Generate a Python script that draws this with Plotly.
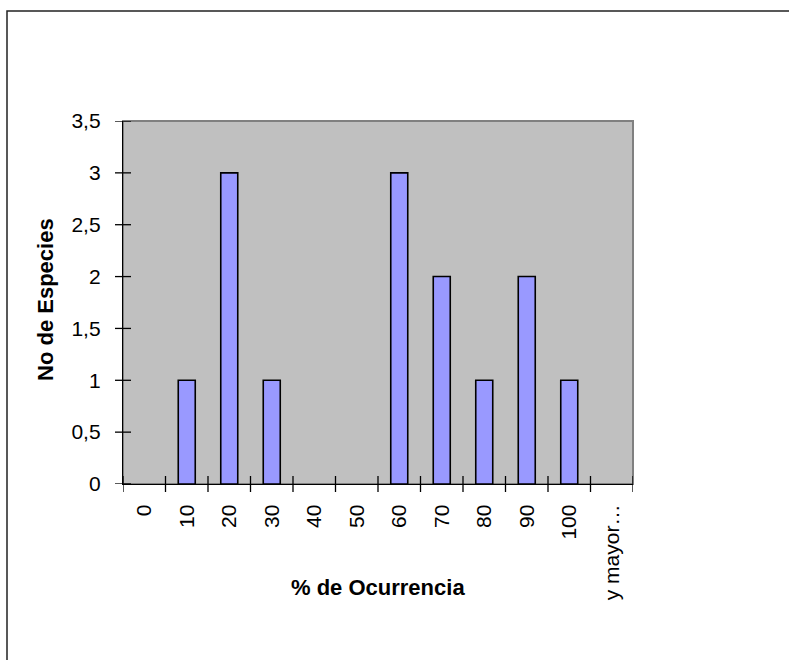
import plotly.graph_objects as go

# Frequency table: % of occurrence classes vs. number of species
categories = ["0", "10", "20", "30", "40", "50", "60", "70", "80", "90", "100", "y mayor…"]
counts = [0, 1, 3, 1, 0, 0, 3, 2, 1, 2, 1, 0]
y_ticks = [0, 0.5, 1, 1.5, 2, 2.5, 3, 3.5]

x_title = "% de Ocurrencia"
y_title = "No de Especies"

W, H = 789, 660
# plot area in pixels
L, R, T, B = 123, 633, 121, 484
pw, ph = R - L, B - T
TICK = 8  # half-length of the crossing tick marks, px


def px_x(p):
    return (p - L) / pw


def px_y(p):
    return (B - p) / ph


FONT = "Liberation Sans, Arial, sans-serif"
n = len(categories)

fig = go.Figure()
fig.add_trace(go.Bar(
    x=categories, y=counts, width=0.4,
    marker=dict(color="#9999FF",
                line=dict(color="#000000",
                          width=[1.6 if v else 0 for v in counts])),
    hoverinfo="x+y", showlegend=False,
))

fig.update_layout(
    width=W, height=H,
    margin=dict(l=L, r=W - R, t=T, b=H - B, pad=0),
    paper_bgcolor="#FFFFFF", plot_bgcolor="#C0C0C0",
    separators=",.",
    font=dict(family=FONT, size=21, color="#000000"),
    xaxis=dict(
        type="category", categoryorder="array", categoryarray=categories,
        range=[-0.5, n - 0.5], tickangle=-90, ticks="",
        showgrid=False, zeroline=False,
        showline=True, linecolor="#000000", linewidth=1.3,
        ticklabelstandoff=11, fixedrange=True,
    ),
    yaxis=dict(
        range=[0, 3.5], tickmode="array", tickvals=y_ticks, ticks="",
        showgrid=False, zeroline=False,
        showline=True, linecolor="#000000", linewidth=1.3,
        ticklabelstandoff=17, fixedrange=True,
    ),
)

# grey frame on top/right of the plot area
fig.add_shape(type="rect", xref="paper", yref="paper", x0=0, x1=1, y0=0, y1=1,
              line=dict(color="#808080", width=2), layer="below")

# tick marks crossing the axes (category boundaries on x, value ticks on y)
tick_line = dict(color="#000000", width=1.3)
for i in range(n + 1):
    fig.add_shape(type="line", xref="x", yref="paper",
                  x0=i - 0.5, x1=i - 0.5, y0=-TICK / ph, y1=TICK / ph,
                  line=tick_line, layer="above")
for v in y_ticks:
    fig.add_shape(type="line", xref="paper", yref="y",
                  x0=-TICK / pw, x1=TICK / pw, y0=v, y1=v,
                  line=tick_line, layer="above")

# outer chart border
fig.add_shape(type="rect", xref="paper", yref="paper",
              x0=px_x(7), x1=px_x(W + 20), y0=px_y(H + 20), y1=px_y(11),
              line=dict(color="#222222", width=1.5))

fig.add_annotation(text=f"<b>{x_title}</b>", xref="paper", yref="paper",
                   x=px_x(377.5), y=px_y(587), xanchor="center", yanchor="middle",
                   showarrow=False, font=dict(family=FONT, size=22, color="#000000"))
fig.add_annotation(text=f"<b>{y_title}</b>", xref="paper", yref="paper",
                   x=px_x(45), y=px_y(300), xanchor="center", yanchor="middle",
                   textangle=-90, showarrow=False,
                   font=dict(family=FONT, size=22, color="#000000"))

fig.write_html("out.html")
